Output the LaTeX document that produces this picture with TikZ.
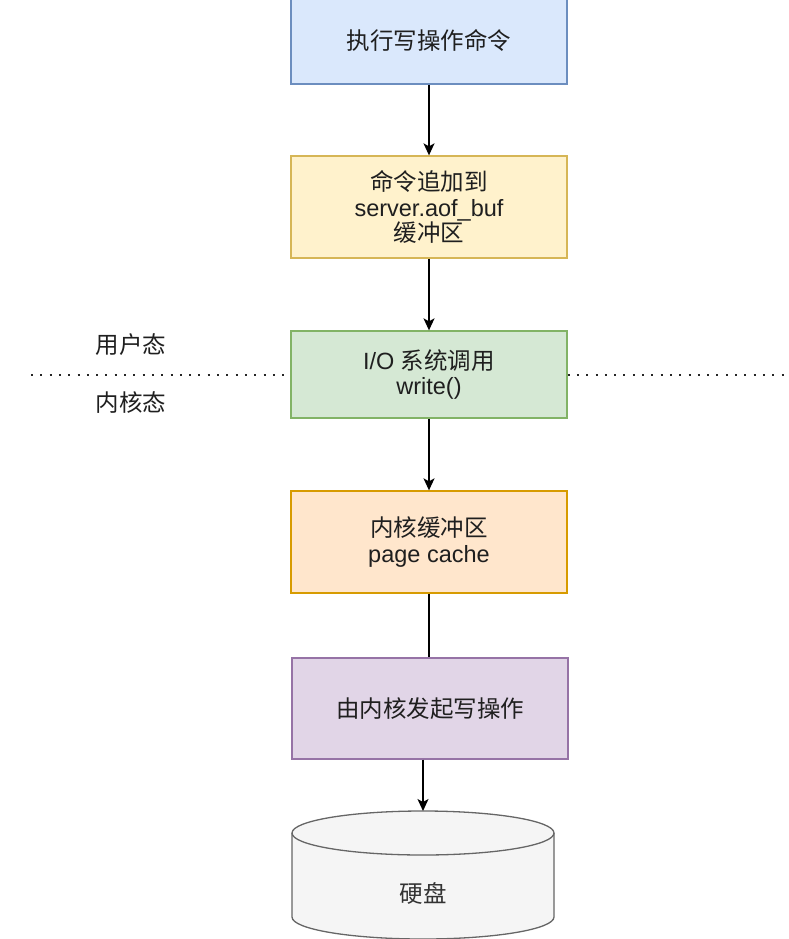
\documentclass[tikz,border=0pt]{standalone}
\usepackage{fontspec}
\setmainfont{Liberation Sans}
\newfontfamily\cjk{Noto Sans CJK SC}
\usetikzlibrary{arrows.meta}
\definecolor{bluef}{HTML}{DAE8FC}\definecolor{blued}{HTML}{6C8EBF}
\definecolor{yelf}{HTML}{FFF2CC}\definecolor{yeld}{HTML}{D6B656}
\definecolor{grnf}{HTML}{D5E8D4}\definecolor{grnd}{HTML}{82B366}
\definecolor{orgf}{HTML}{FFE6CC}\definecolor{orgd}{HTML}{D79B00}
\definecolor{purf}{HTML}{E1D5E7}\definecolor{purd}{HTML}{9673A6}
\definecolor{gryf}{HTML}{F5F5F5}\definecolor{gryd}{HTML}{666666}
\tikzset{
  box/.style={draw, line width=1.3pt, minimum width=276pt, inner sep=0pt, align=center,
    font=\fontsize{23.5}{25.5}\selectfont, text=black!88},
  flow/.style={line width=1.4pt, -{Stealth[length=12pt,width=11pt,inset=3pt]}},
  plain/.style={line width=1.4pt},
  lbl/.style={font=\cjk\fontsize{23.5}{26}\selectfont, text=black!88},
  dots/.style={line width=2pt, dash pattern=on 2pt off 7.3pt, black!85}
}
\begin{document}
\begin{tikzpicture}[x=1pt,y=-1pt]
\useasboundingbox (0,0) rectangle (789,939);
\node[box, fill=bluef, draw=blued, minimum height=88pt] (b1) at (429,40) {\cjk 执行写操作命令};
\node[box, fill=yelf, draw=yeld, minimum height=102pt] (b2) at (429,207) {{\cjk 命令追加到}\\server.aof\_buf\\{\cjk 缓冲区}};
\node[box, fill=grnf, draw=grnd, minimum height=87pt] (b3) at (429,374.5) {I/O {\cjk 系统调用}\\write()};
\node[box, fill=orgf, draw=orgd, minimum height=102pt] (b4) at (429,542) {{\cjk 内核缓冲区}\\page cache};
\node[box, fill=purf, draw=purd, minimum height=101pt] (b5) at (430,708.5) {\cjk 由内核发起写操作};
% cylinder
\draw[line width=1.3pt, draw=gryd, fill=gryf]
  (292,833) -- (292,917) arc[start angle=180, end angle=0, x radius=131, y radius=22]
  -- (554,833) arc[start angle=0, end angle=-180, x radius=131, y radius=22] -- cycle;
\draw[line width=1.3pt, draw=gryd] (292,833) arc[start angle=180, end angle=0, x radius=131, y radius=22];
\coordinate (disk) at (423,811);
\node[lbl, text=black!80] (dlabel) at (423,893) {硬盘};
% dotted divider
\coordinate (dl) at (31,375);
\coordinate (dr) at (789,375);
\draw[dots] (dl) -- (b3.west |- dl);
\draw[dots] (b3.east |- dr) -- (dr);
\node[lbl] (user) at (131,345) {用户态};
\node[lbl] (kern) at (131,403) {内核态};
% connectors
\draw[flow] (b1) -- (b2);
\draw[flow] (b2) -- (b3);
\draw[flow] (b3) -- (b4);
\draw[plain] (b4.south -| 429,0) -- (b5.north -| 429,0);
\draw[flow] (b5.south -| disk) -- (disk);
\end{tikzpicture}
\end{document}
